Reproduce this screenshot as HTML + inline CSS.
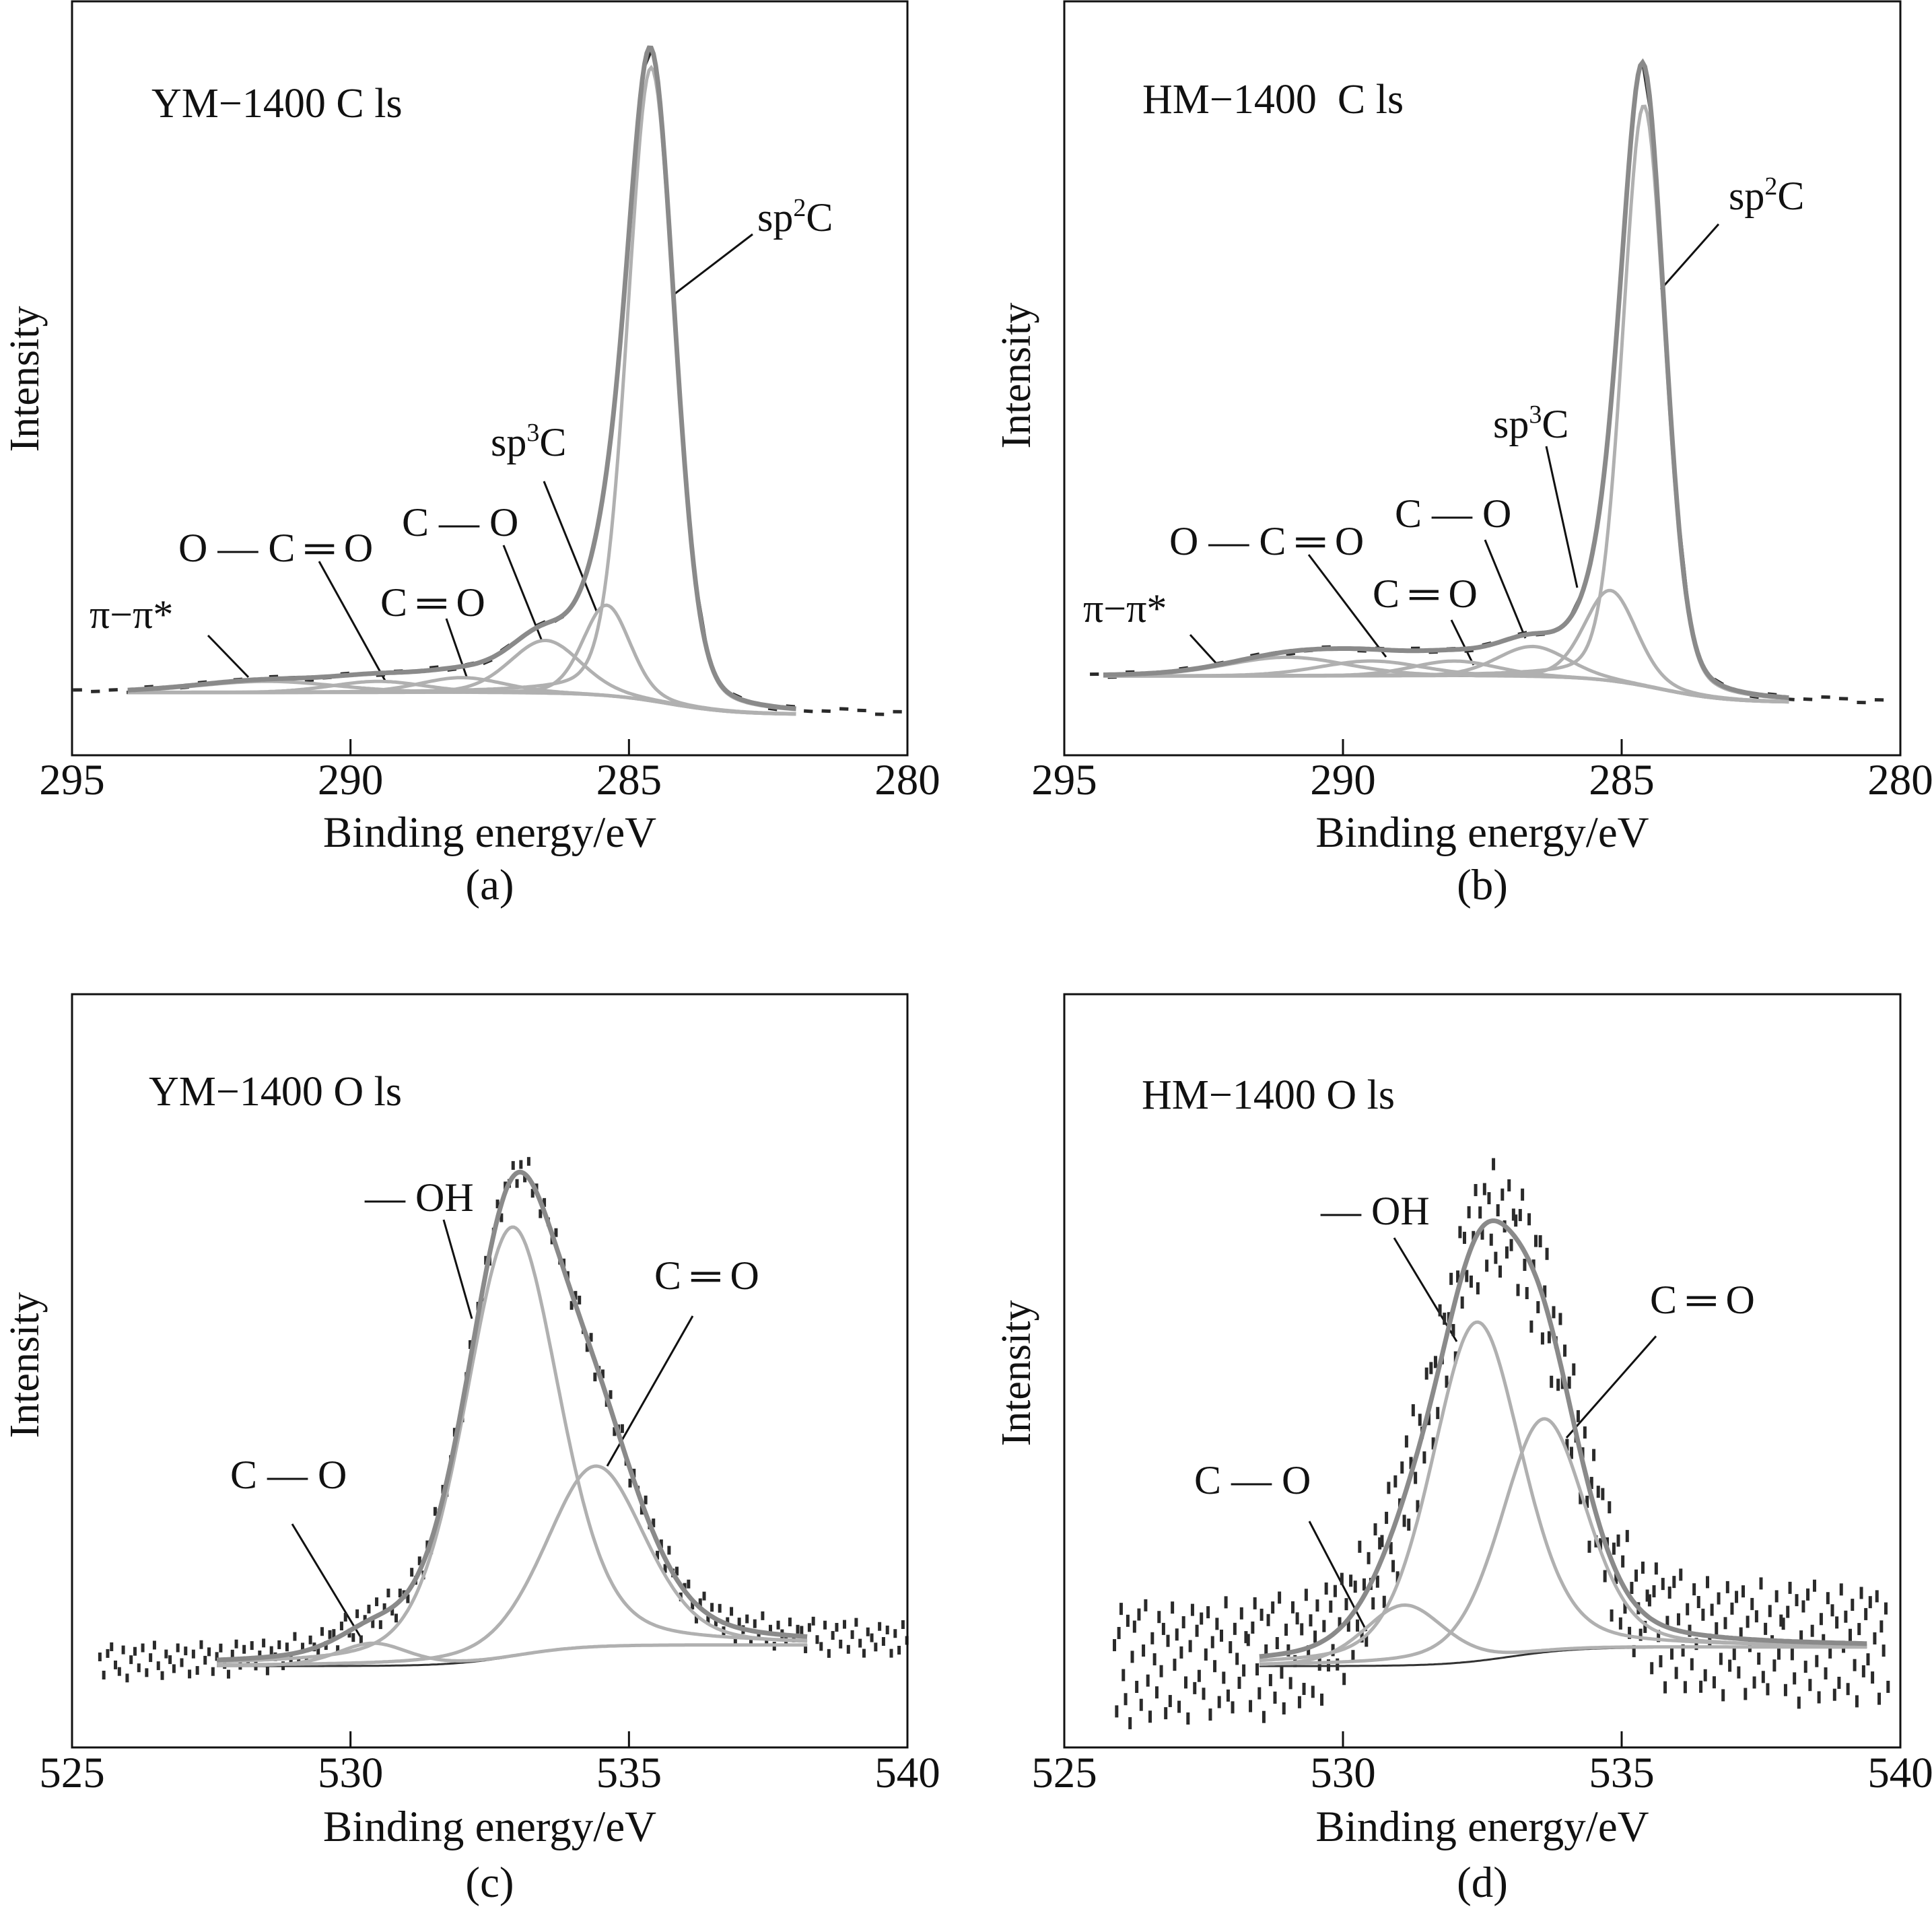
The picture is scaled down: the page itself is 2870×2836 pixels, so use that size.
<!DOCTYPE html>
<html><head><meta charset="utf-8"><style>
html,body{margin:0;padding:0;background:#fff;}
svg{display:block;}
text{font-family:"Liberation Serif","DejaVu Serif",serif;fill:#111;}
</style></head><body>
<svg id="fig" width="2870" height="2836" viewBox="0 0 2870 2836" xmlns="http://www.w3.org/2000/svg">
<g id="static">
<text x="225" y="174" font-size="62">YM−1400 C ls</text>
<text x="1125" y="343" font-size="60">sp<tspan font-size="38" dy="-22">2</tspan><tspan dy="22">C</tspan></text>
<text x="729" y="677" font-size="60">sp<tspan font-size="38" dy="-22">3</tspan><tspan dy="22">C</tspan></text>
<text x="597" y="796" font-size="60">C — O</text>
<text x="265" y="834" font-size="60">O — C ═ O</text>
<text x="565" y="915" font-size="60">C ═ O</text>
<text x="133" y="933" font-size="60">π−π*</text>
<text x="1697" y="168" font-size="62" xml:space="preserve">HM−1400  C ls</text>
<text x="2568" y="311" font-size="60">sp<tspan font-size="38" dy="-22">2</tspan><tspan dy="22">C</tspan></text>
<text x="2218" y="650" font-size="60">sp<tspan font-size="38" dy="-22">3</tspan><tspan dy="22">C</tspan></text>
<text x="2072" y="783" font-size="60">C — O</text>
<text x="1737" y="824" font-size="60">O — C ═ O</text>
<text x="2039" y="902" font-size="60">C ═ O</text>
<text x="1609" y="924" font-size="60">π−π*</text>
<text x="221" y="1642" font-size="62">YM−1400 O ls</text>
<text x="542" y="1799" font-size="60">— OH</text>
<text x="972" y="1915" font-size="60">C ═ O</text>
<text x="342" y="2211" font-size="60">C — O</text>
<text x="1696" y="1647" font-size="62">HM−1400 O ls</text>
<text x="1962" y="1819" font-size="60">— OH</text>
<text x="2451" y="1951" font-size="60">C ═ O</text>
<text x="1774" y="2219" font-size="60">C — O</text>
<g stroke="#111" stroke-width="3">
<line x1="1118" y1="348" x2="999" y2="439"/>
<line x1="808" y1="715" x2="887" y2="910"/>
<line x1="748" y1="810" x2="805" y2="952"/>
<line x1="474" y1="834" x2="572" y2="1011"/>
<line x1="663" y1="919" x2="693" y2="1005"/>
<line x1="309" y1="944" x2="369" y2="1006"/>
<line x1="2553" y1="333" x2="2467" y2="430"/>
<line x1="2297" y1="663" x2="2343" y2="873"/>
<line x1="2206" y1="802" x2="2266" y2="948"/>
<line x1="1944" y1="824" x2="2059" y2="976"/>
<line x1="2156" y1="921" x2="2189" y2="988"/>
<line x1="1768" y1="943" x2="1809" y2="988"/>
<line x1="659" y1="1812" x2="701" y2="1959"/>
<line x1="1029" y1="1955" x2="902" y2="2178"/>
<line x1="434" y1="2264" x2="535" y2="2431"/>
<line x1="2071" y1="1839" x2="2164" y2="1993"/>
<line x1="2460" y1="1985" x2="2327" y2="2136"/>
<line x1="1945" y1="2260" x2="2030" y2="2423"/>
</g>
</g>
<g id="plots"></g>
</svg>
<script>
const noiseOffsets=[0.3,-0.8,0.5,0.9,-0.2,-0.6,0.7,-1,0.1,0.6,-0.4,0.8,-0.7,0.2,0.95,-0.3,-0.9,0.4,0.05,-0.5,0.75,-0.15,0.55,-0.85,0.35,-0.65,0.9,-0.05,0.45,-0.75,0.15,0.65,-0.35,-0.95,0.25,0.85,-0.45,0.5,-0.25,0.7,-0.55,0.1,0.8,-0.9,0.3,-0.1,0.6,-0.7,0.4,-0.3,0.95,-0.6,0.2,-0.8,0.5,0.0,-0.4,0.75,-0.2,0.35];
const cTicks=[295,290,285,280];
const oTicks=[525,530,535,540];
const aCenters=[284.6,285.4,286.5,288.0,289.5,291.5];
const aHeights=[84,12,7,2,1.5,1.5];
const aWidths=[1.0,1.0,1.5,1.8,2.0,3.0];
const aBaseline=[5.4,8.3];
const bCenters=[284.6,285.2,286.6,288.0,289.5,291.0];
const bHeights=[77,12,4,2,2,2.5];
const bWidths=[0.9,1.1,1.5,1.8,2.2,2.6];
const bBaseline=[7,10.5];
const cCenters=[530.4,532.9,534.4];
const cHeights=[3,57,24];
const cWidths=[1.5,2.0,2.1];
const cBaseline=[10.8,13.6];
const dCenters=[531.1,532.4,533.6];
const dHeights=[8,45,31];
const dWidths=[1.7,1.9,1.8];
const dBaseline=[10.8,13.3];

const NS="http://www.w3.org/2000/svg";
const plots=document.getElementById('plots');
function mk(tag,attrs,parent){const e=document.createElementNS(NS,tag);for(const k in attrs)e.setAttribute(k,attrs[k]);(parent||plots).appendChild(e);return e;}

const panels=[
 {id:'a',L:107,R:1348,T:2,B:1122,eL:295,eR:280,ticks:cTicks,C:aCenters,H:aHeights,W:aWidths,base:aBaseline,step:284.3,fit:[282.0,294.0],dat:[280.1,294.9],amp:0.7,mode:'dash',sp:0.32,tb:1180,xl:1258,cap:'(a)',cy:1336,iy:563,ix:37,mix:0.2},
 {id:'b',L:1581,R:2823,T:2,B:1122,eL:295,eR:280,ticks:cTicks,C:bCenters,H:bHeights,W:bWidths,base:bBaseline,step:284.3,fit:[282.0,294.3],dat:[280.3,294.6],amp:0.7,mode:'dash',sp:0.32,tb:1180,xl:1258,cap:'(b)',cy:1336,iy:558,ix:1510,mix:0.2},
 {id:'c',L:107,R:1348,T:1477,B:2596,eL:525,eR:540,ticks:oTicks,C:cCenters,H:cHeights,W:cWidths,base:cBaseline,step:533,fit:[527.6,538.2],dat:[525.5,540],amp:2.2,mode:'pt',sp:0.07,tb:2655,xl:2735,cap:'(c)',cy:2818,iy:2028,ix:37,mix:0.3},
 {id:'d',L:1581,R:2823,T:1477,B:2596,eL:525,eR:540,ticks:oTicks,C:dCenters,H:dHeights,W:dWidths,base:dBaseline,step:533,fit:[528.5,539.4],dat:[525.9,539.8],amp:8,mode:'pt',sp:0.04,tb:2655,xl:2735,cap:'(d)',cy:2818,iy:2040,ix:1510,mix:0.3}
];

panels.forEach(p=>{
 const g=mk('g',{});
 
 
 const xs=e=>p.L+(e-p.eL)/(p.eR-p.eL)*(p.R-p.L);
 const ys=v=>p.B-v/100*(p.B-p.T);
 const baseAt=e=>p.base[0]+(p.base[1]-p.base[0])/(1+Math.exp(-(e-p.step)/0.6));
 const comp=(e,i)=>{const d=(e-p.C[i])/p.W[i];const G=Math.exp(-4*Math.LN2*d*d);const Lr=1/(1+4*d*d);return p.H[i]*(p.mix*Lr+(1-p.mix)*G);};
 const env=e=>{let s=baseAt(e);for(let i=0;i<p.C.length;i++)s+=comp(e,i);return s;};
 const dg=mk('g',{fill:'#2a2a2a',stroke:'#2a2a2a'},g);
 
 
 let k=0;
 for(let e=p.dat[0];e<=p.dat[1];e+=p.sp,k++){
  const n=noiseOffsets[k%noiseOffsets.length]*p.amp;
  if(p.mode==='dash'){
   const e2=e+0.16;const v1=env(e)+n*0.5,v2=env(e2)+n*0.5;
   const s=mk('line',{x1:xs(e),y1:ys(v1),x2:xs(e2),y2:ys(v2),'stroke-width':5},dg);
   
   
  } else {
   const v=env(e)+n;
   const r=mk('rect',{x:xs(e)-2.5,y:ys(v)-8,width:5,height:p.id==='d'?18:13,stroke:'none'},dg);
   
   
  }
 }
 const path=f=>{let d='';const n=300;for(let j=0;j<=n;j++){const e=p.fit[0]+(p.fit[1]-p.fit[0])*j/n;d+=(j?'L':'M')+xs(e).toFixed(1)+','+ys(f(e)).toFixed(1);}return d;};
 const bl=mk('path',{d:path(baseAt),fill:'none',stroke:'#333','stroke-width':3},g);
 
 
 for(let i=0;i<p.C.length;i++){
  const c=mk('path',{d:path(e=>baseAt(e)+comp(e,i)),fill:'none',stroke:'#b0b0b0','stroke-width':5},g);
  
  
 }
 const en=mk('path',{d:path(env),fill:'none',stroke:'#8a8a8a','stroke-width':7},g);
 
 
 const fr=mk('rect',{x:p.L,y:p.T,width:p.R-p.L,height:p.B-p.T,fill:'none',stroke:'#111','stroke-width':3},g);
 
 
 p.ticks.forEach((t,i)=>{
  const x=xs(t);
  if(i>0&&i<p.ticks.length-1){
   const tk=mk('line',{x1:x,y1:p.B,x2:x,y2:p.B-24,stroke:'#111','stroke-width':3},g);
   
   
  }
  const tl=mk('text',{x:x,y:p.tb,'font-size':65,'text-anchor':'middle'},g);
  tl.textContent=t;
  
  
 });
 const cx=(p.L+p.R)/2;
 const xl=mk('text',{x:cx,y:p.xl,'font-size':65,'text-anchor':'middle','xml:space':'preserve'},g);
 xl.textContent='Binding  energy/eV';
 
 
 const cp=mk('text',{x:cx,y:p.cy,'font-size':65,'text-anchor':'middle'},g);
 cp.textContent=p.cap;
 
 
 const yl=mk('text',{x:p.ix+20,y:p.iy,'font-size':62,'text-anchor':'middle',transform:'rotate(-90 '+(p.ix+20)+' '+p.iy+')'},g);
 yl.textContent='Intensity';
 
 
});
</script>
</body></html>
